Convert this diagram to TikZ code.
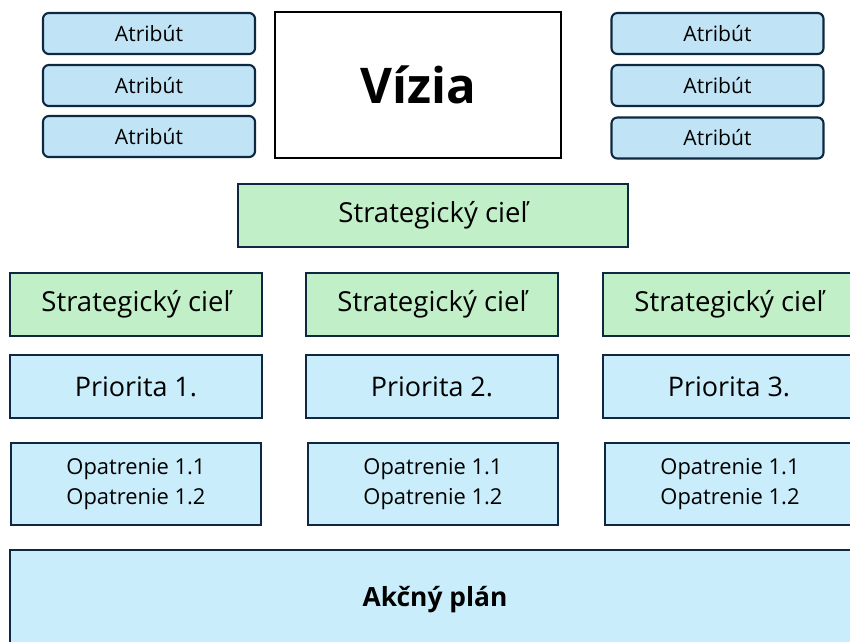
\documentclass[tikz,border=0pt]{standalone}
\usepackage{fontspec}
\setmainfont{Open Sans}
\definecolor{navyline}{RGB}{14,40,65}
\definecolor{attrblue}{RGB}{192,228,245}
\definecolor{paleblue}{RGB}{202,237,251}
\definecolor{palegreen}{RGB}{193,240,200}
\usetikzlibrary{positioning}

\begin{document}
\begin{tikzpicture}[x=0.03cm,y=-0.03cm,
  attr/.style={draw=navyline,line width=1.8pt,rounded corners=5pt,fill=attrblue,
    minimum width=212*0.03cm,minimum height=41*0.03cm,inner sep=0pt,font=\fontsize{18}{20}\selectfont},
  vision/.style={draw=black,line width=1.8pt,fill=white,minimum width=286*0.03cm,
    minimum height=146*0.03cm,font=\fontsize{42}{46}\selectfont\bfseries},
  goal/.style={draw=navyline,line width=1.8pt,fill=palegreen,minimum height=63*0.03cm,
    inner sep=0pt,font=\fontsize{23.5}{26}\selectfont},
  prio/.style={draw=navyline,line width=1.8pt,fill=paleblue,minimum width=252*0.03cm,
    minimum height=63*0.03cm,inner sep=0pt,font=\fontsize{23}{26}\selectfont},
  measure/.style={draw=navyline,line width=1.8pt,fill=paleblue,minimum width=250*0.03cm,
    minimum height=82*0.03cm,inner sep=0pt,align=center,font=\fontsize{18.7}{25.5}\selectfont},
  plan/.style={draw=navyline,line width=1.8pt,fill=paleblue,minimum width=850*0.03cm,
    minimum height=100*0.03cm,inner sep=0pt,font=\fontsize{22.5}{26}\selectfont\bfseries}]
  \useasboundingbox (0,0) rectangle (850,641);
  % atributy vlavo
  \node[attr] (atrla) at (149,33.5) {Atribút};
  \node[attr] (atrlb) at (149,85.5) {Atribút};
  \node[attr] (atrlc) at (149,136.5) {Atribút};
  % vizia
  \node[vision] (vizia) at (418,85) {Vízia};
  % atributy vpravo
  \node[attr] (atrra) at (717.5,33.5) {Atribút};
  \node[attr] (atrrb) at (717.5,85.5) {Atribút};
  \node[attr] (atrrc) at (717.5,138) {Atribút};
  % ciele
  \node[goal,minimum width=390*0.03cm] (cielx) at (433,215.5) {Strategický cieľ};
  \node[goal,minimum width=252*0.03cm] (ciela) at (136,304.5) {Strategický cieľ};
  \node[goal,minimum width=252*0.03cm] (cielb) at (432,304.5) {Strategický cieľ};
  \node[goal,minimum width=252*0.03cm] (cielc) at (729,304.5) {Strategický cieľ};
  % priority
  \node[prio] (prioa) at (136,386.5) {Priorita 1.};
  \node[prio] (priob) at (432,386.5) {Priorita 2.};
  \node[prio] (prioc) at (729,386.5) {Priorita 3.};
  % opatrenia
  \node[measure] (opata) at (136,484) {Opatrenie 1.1\\Opatrenie 1.2};
  \node[measure] (opatb) at (433,484) {Opatrenie 1.1\\Opatrenie 1.2};
  \node[measure] (opatc) at (730,484) {Opatrenie 1.1\\Opatrenie 1.2};
  % akcny plan
  \node[plan] (plan) at (435,600) {Akčný plán};
\end{tikzpicture}
\end{document}
